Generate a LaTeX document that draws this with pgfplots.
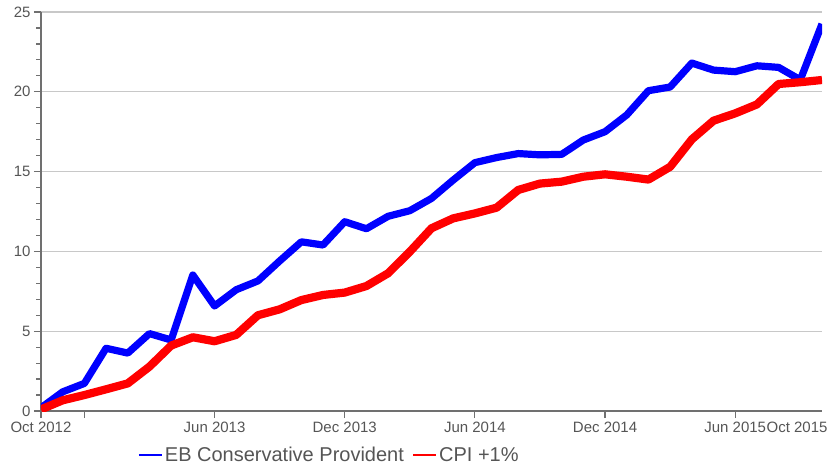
\documentclass[border=0pt]{standalone}
\usepackage{pgfplots}
\pgfplotsset{compat=1.18}
\usepackage{fontspec}
\setmainfont{Liberation Sans}
\definecolor{txtgray}{HTML}{555555}
\definecolor{axgray}{HTML}{707070}
\definecolor{gridgray}{HTML}{C8C8C8}
\begin{document}
\begin{tikzpicture}
\useasboundingbox (-41pt,-55pt) rectangle (788pt,411pt);
\begin{axis}[
  scale only axis,
  width=781pt, height=399pt,
  xmin=0, xmax=36, ymin=0, ymax=25,
  axis lines*=left,
  axis line style={axgray, line width=1.5pt},
  tick align=outside,
  major tick length=7pt,
  minor tick length=4.5pt,
  tick style={axgray, line width=1.2pt},
  ytick={0,5,10,15,20,25},
  minor y tick num=4,
  ymajorgrids,
  major grid style={gridgray, line width=1.3pt},
  xtick={0,2,8,14,20,26,32},
  xticklabels={Oct 2012,,Jun 2013,Dec 2013,Jun 2014,Dec 2014,Jun 2015},
  extra x ticks={36},
  extra x tick labels={Oct 2015},
  extra x tick style={major tick length=0pt, xticklabel style={anchor=north east, xshift=9pt, yshift=-7pt}},
  ticklabel style={font=\fontsize{15}{17}\selectfont, text=txtgray},
  /pgf/number format/assume math mode=true,
  legend columns=2,
  legend style={at={(0.369,-0.111)}, anchor=center, draw=none, fill=none,
    font=\fontsize{20}{22}\selectfont, text=txtgray,
    /tikz/every even column/.append style={column sep=6pt}},
  legend image code/.code={\draw[#1, line width=2.2pt] (0pt,0pt) -- (23pt,0pt);},
  clip=true,
]
\addplot[color=blue, line width=7.2pt, line join=round] coordinates {
(0,0.2) (1,1.2) (2,1.73) (3,3.93) (4,3.63) (5,4.85) (6,4.45) (7,8.52) (8,6.58) (9,7.6)
(10,8.15) (11,9.4) (12,10.6) (13,10.4) (14,11.86) (15,11.42) (16,12.2) (17,12.55) (18,13.32) (19,14.47)
(20,15.56) (21,15.88) (22,16.13) (23,16.05) (24,16.08) (25,16.98) (26,17.5) (27,18.55) (28,20.07) (29,20.3)
(30,21.8) (31,21.36) (32,21.26) (33,21.63) (34,21.53) (35,20.75) (36,24.25)
};
\addlegendentry{EB Conservative Provident}
\addplot[color=red, line width=8.2pt, line join=round] coordinates {
(0,0.1) (1,0.67) (2,1.0) (3,1.36) (4,1.73) (5,2.78) (6,4.1) (7,4.62) (8,4.37) (9,4.77)
(10,6.0) (11,6.37) (12,6.95) (13,7.27) (14,7.42) (15,7.83) (16,8.63) (17,9.98) (18,11.45) (19,12.07)
(20,12.38) (21,12.74) (22,13.85) (23,14.25) (24,14.37) (25,14.68) (26,14.83) (27,14.68) (28,14.5) (29,15.3)
(30,17.02) (31,18.19) (32,18.65) (33,19.21) (34,20.49) (35,20.6) (36,20.74)
};
\addlegendentry{CPI +1\%}
\end{axis}
\end{tikzpicture}
\end{document}
